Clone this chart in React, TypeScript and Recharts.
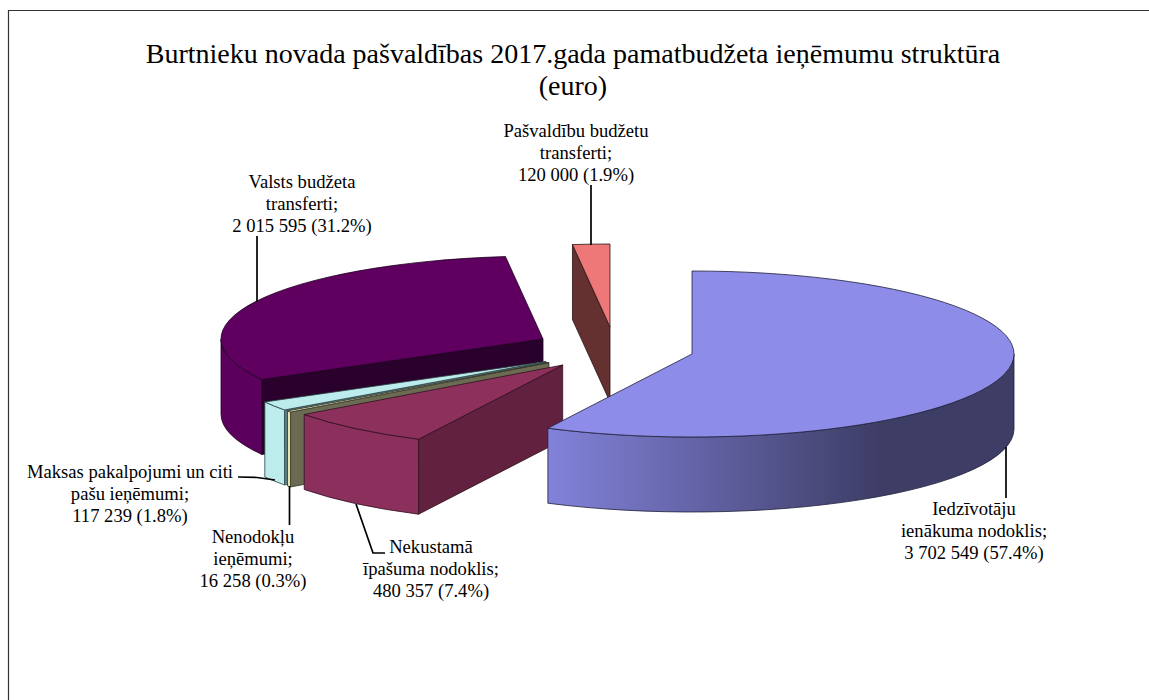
import { Pie, PieChart } from "recharts"

// order is back to front, so the slices paint over each other correctly
const categories = [
  "Pašvaldību budžetu transferti",
  "Valsts budžeta transferti",
  "Maksas pakalpojumi un citi pašu ieņēmumi",
  "Nenodokļu ieņēmumi",
  "Nekustamā īpašuma nodoklis",
  "Iedzīvotāju ienākuma nodoklis",
]
const values = [120000, 2015595, 117239, 16258, 480357, 3702549]
const labelLines = [
  ["Pašvaldību budžetu", "transferti;"],
  ["Valsts budžeta", "transferti;"],
  ["Maksas pakalpojumi un citi", "pašu ieņēmumi;"],
  ["Nenodokļu", "ieņēmumi;"],
  ["Nekustamā", "īpašuma nodoklis;"],
  ["Iedzīvotāju", "ienākuma nodoklis;"],
]
const titleLines = ["Burtnieku novada pašvaldības 2017.gada pamatbudžeta ieņēmumu struktūra", "(euro)"]

const total = values.reduce((a, b) => a + b, 0)
const data = categories.map((name, i) => ({ name, value: values[i] }))

const SERIF = "'Liberation Serif', serif"
const RX = 322
const RY = 83
const DEPTH = 75
const CX = 600
const CY = 345

// how far each slice is pulled out of the pie
const explode = [[10, -18], [-57, -6], [-54, 16.5], [-51, 17.5], [-37.3, 20], [92, 9]]

const looks = [
  { top: "#ee7777", side: "#643030", wall: ["#643030", "#643030"], line: "#2a1414" },
  { top: "#5f0060", side: "#2a002c", wall: ["#5b005c", "#5b005c"], line: "#1c001c" },
  { top: "#bcecec", side: "#5a7d82", wall: ["#bcecec", "#b8e8e8"], line: "#2c4444" },
  { top: "#f5f0b5", side: "#6b6a52", wall: ["#e8e4b0", "#e8e4b0"], line: "#33332a" },
  { top: "#8e305c", side: "#62223f", wall: ["#8b2f5c", "#8a2e5a"], line: "#2e1020" },
  { top: "#8d8de9", side: "#3d3d66", wall: ["#8282da", "#3d3d66"], line: "#20203a" },
]

const leaders = [
  [[591, 185], [591, 245]],
  [[257, 236], [257, 302]],
  [[238, 477], [257, 477.5], [275, 480]],
  [[289.5, 486], [289.5, 525]],
  [[356, 504], [373, 553], [385, 553]],
  [[1006, 447], [1006, 498]],
]
const labelPos = [
  [576, 137],
  [302, 188],
  [130, 478],
  [253, 543],
  [431, 553],
  [974, 515],
]

function valueText(v: number) {
  const s = String(v).replace(/\B(?=(\d{3})+$)/g, " ")
  return `${s} (${((v / total) * 100).toFixed(1)}%)`
}

function Slice3D(props: any) {
  const i = categories.indexOf(props.name)
  const look = looks[i]
  const cx = props.cx + explode[i][0]
  const cy = props.cy + explode[i][1]
  const s = props.startAngle
  const e = props.endAngle
  const rad = (deg: number) => (deg * Math.PI) / 180
  const px = (deg: number) => cx + RX * Math.cos(rad(deg))
  const py = (deg: number, d = 0) => cy - RY * Math.sin(rad(deg)) + d
  const arc = (to: number, d: number, large: number, sweep: number) =>
    `A ${RX} ${RY} 0 ${large} ${sweep} ${px(to)} ${py(to, d)}`

  const topFace = `M ${cx} ${cy} L ${px(s)} ${py(s)} ${arc(e, 0, e - s > 180 ? 1 : 0, 0)} Z`

  // outer wall, only the part on the front half
  const lo = Math.max(s, 180)
  const hi = Math.min(e, 360)
  const wall =
    hi > lo
      ? `M ${px(lo)} ${py(lo)} ${arc(hi, 0, hi - lo > 180 ? 1 : 0, 0)} L ${px(hi)} ${py(hi, DEPTH)} ${arc(lo, DEPTH, hi - lo > 180 ? 1 : 0, 1)} Z`
      : null

  const cut = (deg: number) =>
    `M ${cx} ${cy} L ${px(deg)} ${py(deg)} L ${px(deg)} ${py(deg, DEPTH)} L ${cx} ${cy + DEPTH} Z`
  const cuts: number[] = []
  if (Math.cos(rad(e)) < -0.001) cuts.push(e)
  if (Math.cos(rad(s)) > 0.001) cuts.push(s)

  const gradId = `wall-${i}`
  return (
    <g>
      <defs>
        <linearGradient id={gradId} gradientUnits="userSpaceOnUse" x1={cx - 143} x2={cx + 323} y1={0} y2={0}>
          <stop offset="0" stopColor={look.wall[0]} />
          <stop offset="0.71" stopColor={look.wall[1]} />
          <stop offset="1" stopColor={look.wall[1]} />
        </linearGradient>
      </defs>
      {cuts.map((deg) => (
        <path key={deg} d={cut(deg)} fill={look.side} stroke={look.line} strokeWidth={0.8} strokeLinejoin="round" />
      ))}
      {wall && <path d={wall} fill={`url(#${gradId})`} stroke={look.line} strokeWidth={0.8} strokeLinejoin="round" />}
      <path d={topFace} fill={look.top} stroke={look.line} strokeWidth={0.8} strokeLinejoin="round" />
    </g>
  )
}

function SliceLabel(props: any) {
  const i = categories.indexOf(props.name)
  const [x, y] = labelPos[i]
  const lines = [...labelLines[i], valueText(values[i])]
  return (
    <g>
      <polyline
        points={leaders[i].map((p) => p.join(",")).join(" ")}
        fill="none"
        stroke="#000"
        strokeWidth={1.7}
      />
      <text x={x} y={y} textAnchor="middle" fontFamily={SERIF} fontSize={18.6} fill="#000">
        {lines.map((line, k) => (
          <tspan key={k} x={x} dy={k === 0 ? 0 : 22}>
            {line}
          </tspan>
        ))}
      </text>
    </g>
  )
}

export default function App() {
  return (
    <div style={{ position: "absolute", left: 0, top: 0, width: 1149, height: 700, background: "#fff" }}>
      <PieChart width={1149} height={700} margin={{ top: 0, right: 0, bottom: 0, left: 0 }}>
        <path d="M 8.5 700 L 8.5 10.5 L 1149 10.5" fill="none" stroke="#333" strokeWidth={1.2} />
        <text x={573} y={63} textAnchor="middle" fontFamily={SERIF} fontSize={28} fill="#000">
          {titleLines[0]}
        </text>
        <text x={573} y={95} textAnchor="middle" fontFamily={SERIF} fontSize={28} fill="#000">
          {titleLines[1]}
        </text>
        <Pie
          data={data}
          dataKey="value"
          nameKey="name"
          cx={CX}
          cy={CY}
          innerRadius={0}
          outerRadius={RX}
          startAngle={90}
          endAngle={450}
          stroke="none"
          isAnimationActive={false}
          shape={(p: any) => <Slice3D {...p} />}
          label={(p: any) => <SliceLabel {...p} />}
          labelLine={false}
        />
      </PieChart>
    </div>
  )
}
